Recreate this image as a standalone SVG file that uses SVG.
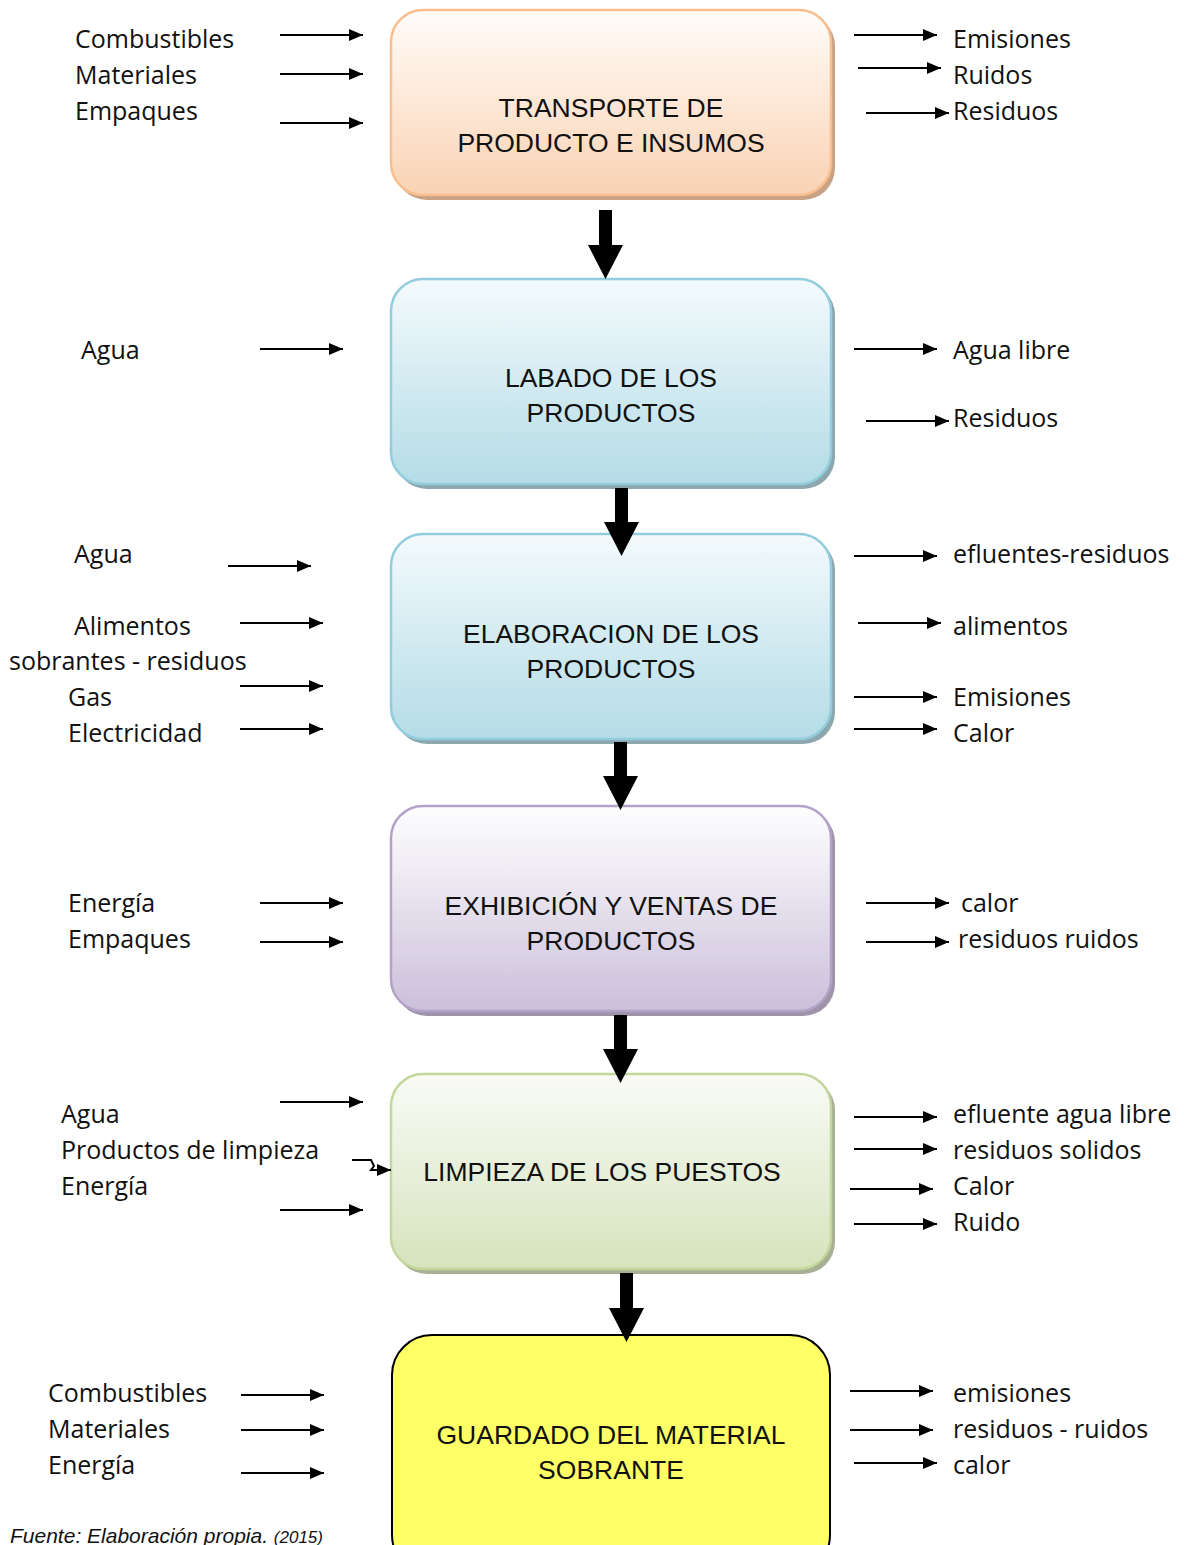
<svg xmlns="http://www.w3.org/2000/svg" width="1184" height="1545" viewBox="0 0 1184 1545">
<defs>
<linearGradient id="gOr" x1="0" y1="0" x2="0" y2="1"><stop offset="0" stop-color="#FFFCFA"/><stop offset="0.3" stop-color="#FEF0E4"/><stop offset="1" stop-color="#FAD2B3"/></linearGradient>
<linearGradient id="gBl" x1="0" y1="0" x2="0" y2="1"><stop offset="0" stop-color="#F4FAFC"/><stop offset="0.3" stop-color="#E0F1F6"/><stop offset="1" stop-color="#B4DCE6"/></linearGradient>
<linearGradient id="gPu" x1="0" y1="0" x2="0" y2="1"><stop offset="0" stop-color="#FDFDFE"/><stop offset="0.3" stop-color="#F0EDF4"/><stop offset="1" stop-color="#CBBFDA"/></linearGradient>
<linearGradient id="gGr" x1="0" y1="0" x2="0" y2="1"><stop offset="0" stop-color="#F9FBF5"/><stop offset="0.3" stop-color="#EEF4E5"/><stop offset="1" stop-color="#D6E3BC"/></linearGradient>
<marker id="ah" markerUnits="userSpaceOnUse" markerWidth="14" markerHeight="12" refX="14" refY="6" orient="auto"><path d="M0,0 L14,6 L0,12 Z" fill="#000"/></marker>
</defs>
<style>
.lbl{font-family:"Open Sans","Liberation Sans",sans-serif;font-size:25px;fill:#111}
.box{font-family:"Liberation Sans",Arial,sans-serif;font-size:26.5px;fill:#111;text-anchor:middle}
.ar{stroke:#000;stroke-width:2;fill:none;marker-end:url(#ah)}
.foot{font-family:"Liberation Sans",Arial,sans-serif;font-style:italic;font-size:21px;fill:#111}
</style>

<g id="n1">
<rect x="395" y="14" width="440" height="186" rx="32" fill="#C9A285"/>
<rect x="391" y="10" width="440" height="185" rx="32" fill="url(#gOr)" stroke="#F8BE90" stroke-width="2.5"/>
<text class="box" x="611" y="117">TRANSPORTE DE</text>
<text class="box" x="611" y="152">PRODUCTO E INSUMOS</text>
</g>
<g id="n2">
<rect x="395" y="283" width="440" height="206" rx="32" fill="#8DA7AF"/>
<rect x="391" y="279" width="440" height="205" rx="32" fill="url(#gBl)" stroke="#93CDDD" stroke-width="2.5"/>
<text class="box" x="611" y="387">LABADO DE LOS</text>
<text class="box" x="611" y="422">PRODUCTOS</text>
</g>
<g id="n3">
<rect x="395" y="538" width="440" height="206" rx="32" fill="#8DA7AF"/>
<rect x="391" y="534" width="440" height="205" rx="32" fill="url(#gBl)" stroke="#93CDDD" stroke-width="2.5"/>
<text class="box" x="611" y="643">ELABORACION DE LOS</text>
<text class="box" x="611" y="678">PRODUCTOS</text>
</g>
<g id="n4">
<rect x="395" y="810" width="440" height="206" rx="32" fill="#9E94A9"/>
<rect x="391" y="806" width="440" height="205" rx="32" fill="url(#gPu)" stroke="#B3A2C7" stroke-width="2.5"/>
<text class="box" x="611" y="915">EXHIBICIÓN Y VENTAS DE</text>
<text class="box" x="611" y="950">PRODUCTOS</text>
</g>
<g id="n5">
<rect x="395" y="1078" width="440" height="196" rx="32" fill="#A7B094"/>
<rect x="391" y="1074" width="440" height="195" rx="32" fill="url(#gGr)" stroke="#C3D69B" stroke-width="2.5"/>
<text class="box" x="602" y="1181">LIMPIEZA DE LOS PUESTOS</text>
</g>
<g id="n6">
<rect x="392" y="1335" width="438" height="240" rx="40" fill="#FFFF66" stroke="#000" stroke-width="2"/>
<text class="box" x="611" y="1444">GUARDADO DEL MATERIAL</text>
<text class="box" x="611" y="1479">SOBRANTE</text>
</g>

<g id="connectors">
<path d="M599,210 H612 V245 H623 L605.5,279 L588,245 H599 Z" fill="#000"/>
<path d="M615,488 H628 V522 H639 L621.5,556 L604,522 H615 Z" fill="#000"/>
<path d="M614,742 H627 V776 H638 L620.5,810 L603,776 H614 Z" fill="#000"/>
<path d="M614,1015 H627 V1049 H638 L620.5,1083 L603,1049 H614 Z" fill="#000"/>
<path d="M620,1273 H633 V1308 H644 L626.5,1342 L609,1308 H620 Z" fill="#000"/>

<line class="ar" x1="280" y1="35" x2="363" y2="35"/>
<line class="ar" x1="280" y1="74" x2="363" y2="74"/>
<line class="ar" x1="280" y1="123" x2="363" y2="123"/>
<line class="ar" x1="854" y1="35" x2="937" y2="35"/>
<line class="ar" x1="858" y1="68" x2="941" y2="68"/>
<line class="ar" x1="866" y1="113" x2="949" y2="113"/>

<line class="ar" x1="260" y1="349" x2="343" y2="349"/>
<line class="ar" x1="854" y1="349" x2="937" y2="349"/>
<line class="ar" x1="866" y1="421" x2="949" y2="421"/>

<line class="ar" x1="228" y1="566" x2="311" y2="566"/>
<line class="ar" x1="240" y1="623" x2="323" y2="623"/>
<line class="ar" x1="240" y1="686" x2="323" y2="686"/>
<line class="ar" x1="240" y1="729" x2="323" y2="729"/>
<line class="ar" x1="854" y1="556" x2="937" y2="556"/>
<line class="ar" x1="858" y1="623" x2="941" y2="623"/>
<line class="ar" x1="854" y1="697" x2="937" y2="697"/>
<line class="ar" x1="854" y1="729" x2="937" y2="729"/>

<line class="ar" x1="260" y1="903" x2="343" y2="903"/>
<line class="ar" x1="260" y1="942" x2="343" y2="942"/>
<line class="ar" x1="866" y1="903" x2="949" y2="903"/>
<line class="ar" x1="866" y1="942" x2="949" y2="942"/>

<line class="ar" x1="280" y1="1102" x2="363" y2="1102"/>
<path class="ar" d="M352,1160 H371 L374,1166 L371,1170 H391"/>
<line class="ar" x1="280" y1="1210" x2="363" y2="1210"/>
<line class="ar" x1="854" y1="1117" x2="937" y2="1117"/>
<line class="ar" x1="854" y1="1149" x2="937" y2="1149"/>
<line class="ar" x1="850" y1="1189" x2="933" y2="1189"/>
<line class="ar" x1="854" y1="1224" x2="937" y2="1224"/>

<line class="ar" x1="241" y1="1395" x2="324" y2="1395"/>
<line class="ar" x1="241" y1="1430" x2="324" y2="1430"/>
<line class="ar" x1="241" y1="1473" x2="324" y2="1473"/>
<line class="ar" x1="850" y1="1391" x2="933" y2="1391"/>
<line class="ar" x1="850" y1="1430" x2="933" y2="1430"/>
<line class="ar" x1="854" y1="1463" x2="937" y2="1463"/>
</g>

<g id="labels">
<text class="lbl" x="75" y="48">Combustibles</text>
<text class="lbl" x="75" y="84">Materiales</text>
<text class="lbl" x="75" y="120">Empaques</text>
<text class="lbl" x="953" y="48">Emisiones</text>
<text class="lbl" x="953" y="84">Ruidos</text>
<text class="lbl" x="953" y="120">Residuos</text>

<text class="lbl" x="81" y="359">Agua</text>
<text class="lbl" x="953" y="359">Agua libre</text>
<text class="lbl" x="953" y="427">Residuos</text>

<text class="lbl" x="74" y="563">Agua</text>
<text class="lbl" x="74" y="635">Alimentos</text>
<text class="lbl" x="9" y="670">sobrantes - residuos</text>
<text class="lbl" x="68" y="706">Gas</text>
<text class="lbl" x="68" y="742">Electricidad</text>
<text class="lbl" x="953" y="563">efluentes-residuos</text>
<text class="lbl" x="953" y="635">alimentos</text>
<text class="lbl" x="953" y="706">Emisiones</text>
<text class="lbl" x="953" y="742">Calor</text>

<text class="lbl" x="68" y="912">Energía</text>
<text class="lbl" x="68" y="948">Empaques</text>
<text class="lbl" x="961" y="912">calor</text>
<text class="lbl" x="958" y="948">residuos ruidos</text>

<text class="lbl" x="61" y="1123">Agua</text>
<text class="lbl" x="61" y="1159">Productos de limpieza</text>
<text class="lbl" x="61" y="1195">Energía</text>
<text class="lbl" x="953" y="1123">efluente agua libre</text>
<text class="lbl" x="953" y="1159">residuos solidos</text>
<text class="lbl" x="953" y="1195">Calor</text>
<text class="lbl" x="953" y="1231">Ruido</text>

<text class="lbl" x="48" y="1402">Combustibles</text>
<text class="lbl" x="48" y="1438">Materiales</text>
<text class="lbl" x="48" y="1474">Energía</text>
<text class="lbl" x="953" y="1402">emisiones</text>
<text class="lbl" x="953" y="1438">residuos - ruidos</text>
<text class="lbl" x="953" y="1474">calor</text>

<text class="foot" x="10" y="1543">Fuente: Elaboración propia. <tspan font-size="17">(2015)</tspan></text>
</g>
</svg>
